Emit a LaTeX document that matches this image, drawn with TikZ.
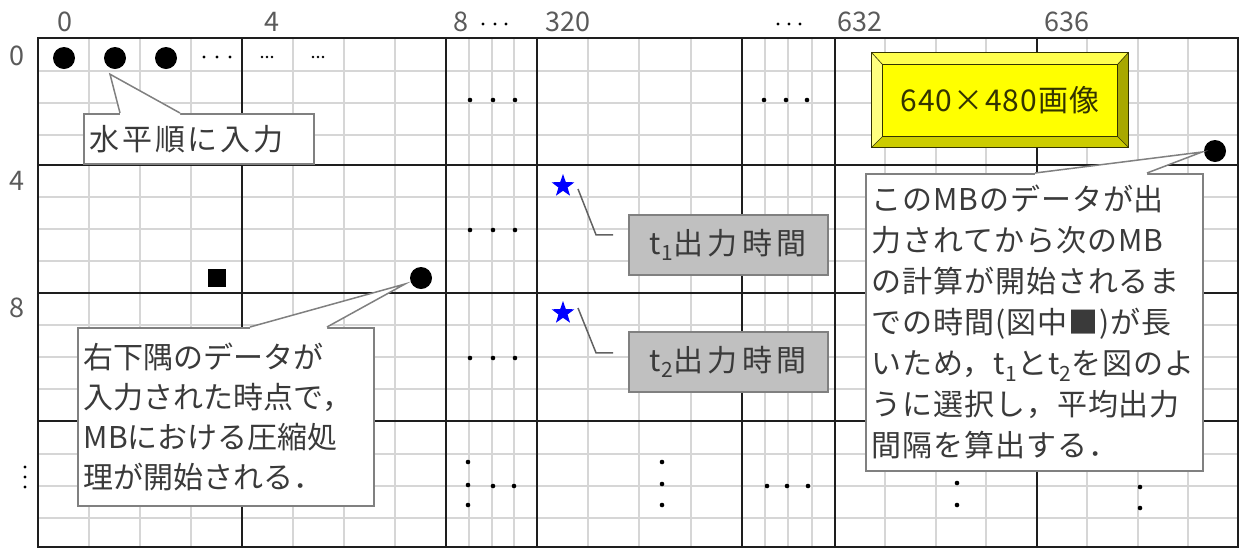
\documentclass[tikz,border=0pt]{standalone}
\usepackage{fontspec}
\setmainfont{Noto Sans CJK JP}
\usetikzlibrary{shapes.geometric,calc}
\definecolor{gridthin}{HTML}{D6D6D6}
\definecolor{gridthick}{HTML}{1E1E1E}
\definecolor{lblc}{HTML}{5A5A5A}
\definecolor{txtc}{HTML}{3A3A3A}
\definecolor{cbord}{HTML}{808080}
\definecolor{tboxc}{HTML}{C0C0C0}
\definecolor{yface}{HTML}{FFFF00}
\definecolor{ytop}{HTML}{FFFF4D}
\definecolor{yleft}{HTML}{FFFF80}
\definecolor{yright}{HTML}{A8A800}
\definecolor{ybot}{HTML}{CCCC00}
\definecolor{yline}{HTML}{333300}
\newcommand\calloutwedge[3]{%
  \fill[white] (#1) -- (#2) -- (#3) -- ($(#3)+(0,2.5)$) -- ($(#1)+(0,2.5)$) -- cycle;
  \draw[cline] (#1) -- (#2) -- (#3);}
\begin{document}
\begin{tikzpicture}[x=1pt,y=-1pt,
  thinline/.style={draw=gridthin, line width=1.6pt},
  thickline/.style={draw=gridthick, line width=2.8pt},
  bigdot/.style={circle, fill=black, minimum size=22pt, inner sep=0pt},
  smalldot/.style={fill=black},
  lbl/.style={text=lblc, font=\fontsize{27}{27}\selectfont, inner sep=0pt},
  callbox/.style={draw=cbord, line width=1.5pt, fill=white, anchor=north west, align=left, text=txtc, inner xsep=6pt, inner ysep=0pt},
  cline/.style={draw=cbord, line width=1.5pt, line join=miter},
  tbox/.style={draw=cbord, line width=1.5pt, fill=tboxc, anchor=north west, text=txtc, inner xsep=4pt, inner ysep=0pt, minimum width=199pt, minimum height=60pt, align=left, font=\fontsize{30}{34}\selectfont\addfontfeature{LetterSpace=15}},
  tline/.style={draw=txtc!80, line width=1.5pt},
  bluestar/.style={star, star points=5, star point ratio=2.5, fill=blue, draw=none, minimum size=24pt, inner sep=0pt}
]
\useasboundingbox (0,0) rectangle (1242,550);
% ---------- grid ----------
\foreach \x in {89,140,191,293,344,395,469,492,514,588,639,691,765,788,812,885,936,986,1087,1138,1188}
  \draw[thinline] (\x,38) -- (\x,547);
\foreach \y in {71,103,135,197,229,261,325,357,389,454,486,518}
  \draw[thinline] (38,\y) -- (1238,\y);
\foreach \x in {242,446,537,742,835,1037}
  \draw[thickline] (\x,38) -- (\x,547);
\foreach \y in {165,293,421}
  \draw[thickline] (38,\y) -- (1238,\y);
\draw[thickline] (38,38) rectangle (1238,547);
% ---------- axis labels ----------
\node[lbl] (lx0) at (65,22) {0};
\node[lbl] (lx4) at (272,22) {4};
\node[lbl] (lx8) at (461,22) {8};
\node[lbl] (lx320) at (568,22) {320};
\node[lbl] (lx632) at (860,22) {632};
\node[lbl] (lx636) at (1067,22) {636};
\node[lbl] (ly0) at (17,56) {0};
\node[lbl] (ly4) at (17,181) {4};
\node[lbl] (ly8) at (17,308) {8};
\foreach \p in {(483,24),(495,24),(506,24),(778,24),(789,24),(800,24),(25,467),(25,477),(25,487)}
  \fill[smalldot] \p circle[radius=1.7pt];
% ---------- data marks ----------
\node[bigdot] (d1) at (64,58) {};
\node[bigdot] (d2) at (115,58) {};
\node[bigdot] (d3) at (166,58) {};
\node[bigdot] (d7) at (421,278) {};
\node[bigdot] (d9) at (1215,151) {};
\node[fill=black, minimum size=18pt, inner sep=0pt] (sq) at (217,278) {};
\foreach \p in {(204,57),(217,57),(230,57)}
  \fill[smalldot] \p circle[radius=1.7pt];
\foreach \p in {(262,57),(267,57),(272,57),(313,57),(318,57),(323,57)}
  \fill[smalldot] \p circle[radius=1.3pt];
\foreach \p in {(470,100),(493,100),(515,100),(764,100),(786,100),(807,100),
                (470,230),(493,230),(515,230),(470,358),(493,358),(515,358),
                (468,462),(468,485),(468,505),(493,486),(514,486),
                (662,462),(662,484),(662,505),(767,486),(787,486),(808,486),
                (957,483),(957,505),(1140,487),(1140,508)}
  \fill[smalldot] \p circle[radius=2.3pt];
% ---------- callout 1 ----------
\node[callbox, minimum width=230pt, minimum height=50pt, text width=218pt,
      font=\fontsize{30}{40}\selectfont\addfontfeature{LetterSpace=9}] (c1) at (83,113) {水平順に入力};
\coordinate (c1a) at ($(c1.north west)+(37,0)$);
\coordinate (c1b) at ($(c1.north west)+(97,0)$);
\coordinate (c1t) at ($(d2.south)+(-5,5)$);
\calloutwedge{c1a}{c1t}{c1b}
% ---------- callout 2 ----------
\node[callbox, minimum width=296pt, minimum height=178pt, text width=284pt,
      font=\fontsize{30}{40}\selectfont] (c2) at (77,327)
  {右下隅のデータが\\入力された時点で，\\MBにおける圧縮処\\理が開始される．};
\coordinate (c2a) at ($(c2.north west)+(173,0)$);
\coordinate (c2b) at ($(c2.north west)+(250,0)$);
\coordinate (c2t) at ($(d7.center)+(-16,6)$);
\calloutwedge{c2a}{c2t}{c2b}
% ---------- callout 3 ----------
\node[callbox, minimum width=337pt, minimum height=297pt, text width=325pt,
      font=\fontsize{30}{41}\selectfont\addfontfeature{LetterSpace=3}] (c3) at (865,173)
  {このMBのデータが出\\力されてから次のMB\\の計算が開始されるま\\での時間(図中■)が長\\いため，t\textsubscript{1}とt\textsubscript{2}を図のよ\\うに選択し，平均出力\\間隔を算出する．};
\coordinate (c3a) at ($(c3.north west)+(170,0)$);
\coordinate (c3b) at ($(c3.north west)+(282,0)$);
\coordinate (c3t) at ($(d9.center)+(-13,1)$);
\calloutwedge{c3a}{c3t}{c3b}
% ---------- output time boxes ----------
\node[bluestar] (s1) at (563,186) {};
\node[bluestar] (s2) at (563,313) {};
\node[tbox] (t1) at (628,214) {t\textsubscript{1}出力時間};
\node[tbox] (t2) at (628,331) {t\textsubscript{2}出力時間};
\coordinate (s1a) at ($(s1.center)+(15,3)$);
\coordinate (s1k) at ($(t1.west)+(-32,-10)$);
\coordinate (s1e) at ($(t1.west)+(-15,-10)$);
\draw[tline] (s1a) -- (s1k) -- (s1e);
\coordinate (s2a) at ($(s2.center)+(15,-5)$);
\coordinate (s2k) at ($(t2.west)+(-32,-9)$);
\coordinate (s2e) at ($(t2.west)+(-15,-9)$);
\draw[tline] (s2a) -- (s2k) -- (s2e);
% ---------- yellow bevel box ----------
\node[fill=yface, minimum width=234pt, minimum height=71pt, inner sep=0pt, text=yline,
      font=\fontsize{30}{34}\selectfont\addfontfeature{LetterSpace=4}] (yb) at (1000,100.5) {640×480画像};
\coordinate (yo1) at ($(yb.north west)+(-11,-12)$);
\coordinate (yo2) at ($(yb.north east)+(11,-12)$);
\coordinate (yo3) at ($(yb.south east)+(11,11)$);
\coordinate (yo4) at ($(yb.south west)+(-11,11)$);
\fill[ytop] (yo1) -- (yo2) -- (yb.north east) -- (yb.north west) -- cycle;
\fill[yleft] (yo1) -- (yb.north west) -- (yb.south west) -- (yo4) -- cycle;
\fill[yright] (yo2) -- (yo3) -- (yb.south east) -- (yb.north east) -- cycle;
\fill[ybot] (yo4) -- (yb.south west) -- (yb.south east) -- (yo3) -- cycle;
\draw[yline, line width=1pt] (yo1) -- (yo2) -- (yo3) -- (yo4) -- cycle;
\draw[yline, line width=0.8pt] (yb.north west) rectangle (yb.south east);
\draw[yline, line width=0.6pt] (yo1) -- (yb.north west) (yo2) -- (yb.north east) (yo3) -- (yb.south east) (yo4) -- (yb.south west);
\end{tikzpicture}
\end{document}
